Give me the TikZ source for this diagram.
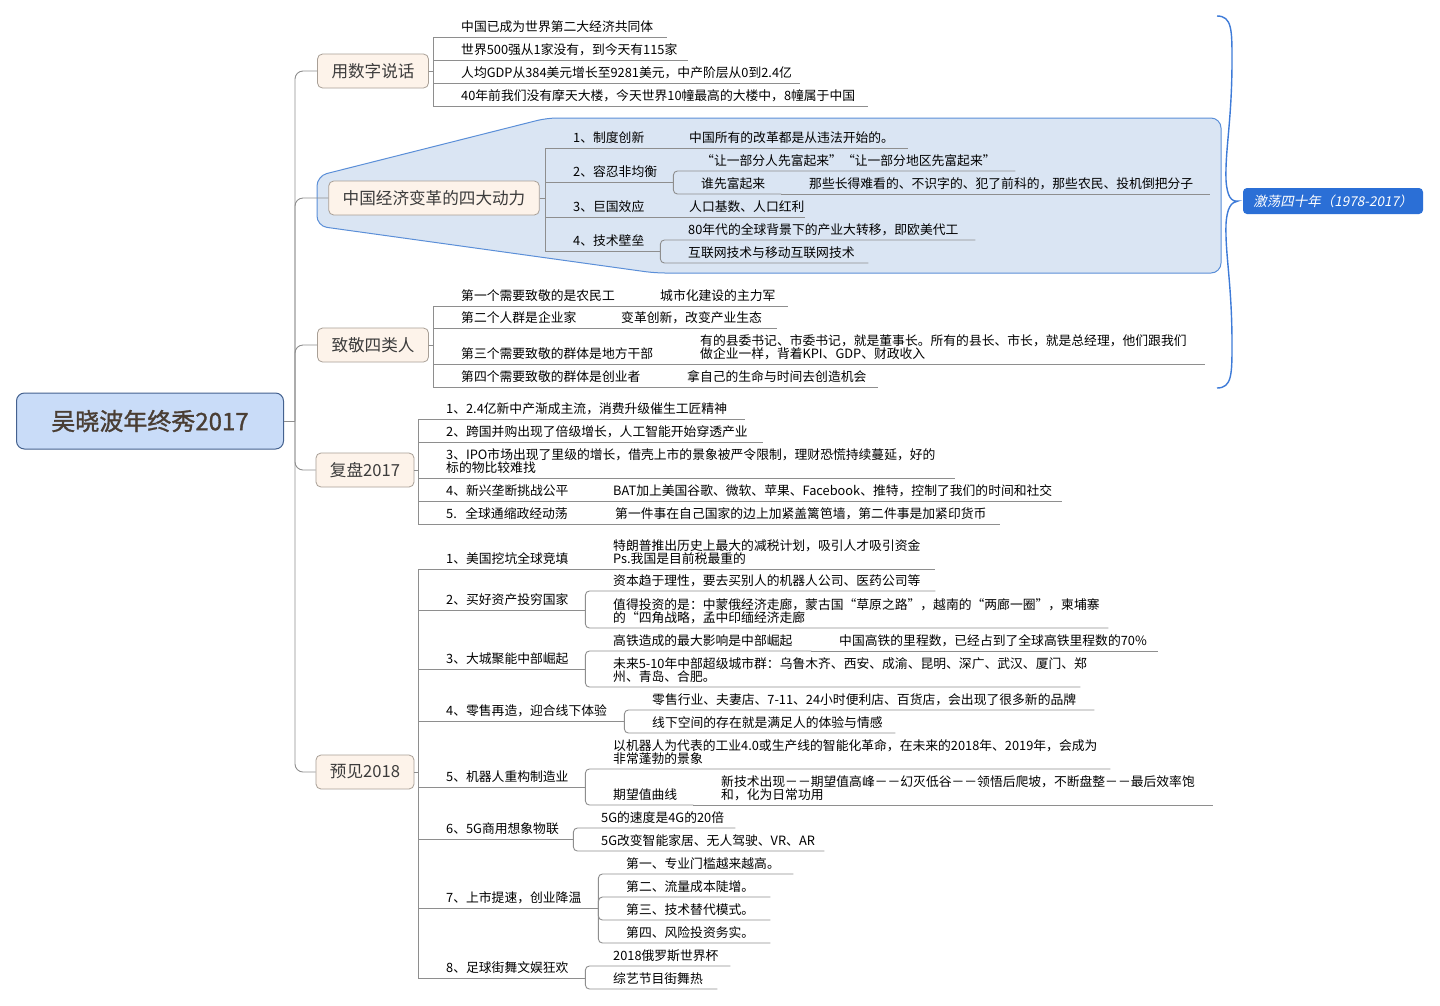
\documentclass[tikz,border=0pt]{standalone}
\usepackage{fontspec}
\setmainfont{Noto Sans CJK SC}
\newfontfamily\cjk{Noto Sans CJK SC}
\newfontfamily\cjkb[FakeBold=1.2]{Noto Sans CJK SC}
\newfontfamily\cjki[FakeSlant=0.2]{Noto Sans CJK SC}
\usepackage{tikz}
\definecolor{lncol}{HTML}{8E8E8E}
\definecolor{brfill}{HTML}{FDF3EA}
\definecolor{brline}{HTML}{A89F96}
\definecolor{brtext}{HTML}{3C3C3C}
\definecolor{rootfill}{HTML}{C9DCF8}
\definecolor{rootline}{HTML}{44618F}
\definecolor{roottext}{HTML}{4A3E34}
\definecolor{zonefill}{HTML}{DAE5F3}
\definecolor{zoneline}{HTML}{5B8FD8}
\definecolor{braceline}{HTML}{3E7BD8}
\definecolor{tagfill}{HTML}{2B6FD6}
\newcommand{\leaffont}{\cjk\fontsize{12.8}{13}\selectfont\lineskiplimit=-20pt}
\newcommand{\ind}{\hspace*{28pt}\strut}
\hyphenpenalty=10000
\exhyphenpenalty=10000
\tikzset{
  ln/.style={draw=lncol, line width=0.9pt},
  topic/.style={anchor=south west, inner xsep=0pt, inner ysep=1pt, text width=#1, align=left, font=\leaffont},
  branch/.style={draw=brline, fill=brfill, rounded corners=5, line width=0.8pt, minimum height=34, inner xsep=14, font=\cjk\fontsize{16.6}{18}\selectfont, text=brtext},
  rootbox/.style={draw=rootline, fill=rootfill, rounded corners=8, line width=1pt, minimum width=267, minimum height=56, font=\cjkb\fontsize{24}{26}\selectfont, text=roottext},
  tagbox/.style={fill=tagfill, rounded corners=4, minimum width=180, minimum height=26, font=\cjki\fontsize{13.5}{15}\selectfont, text=white},
  zone/.style={draw=zoneline, fill=zonefill, line width=1pt},
  bracecurve/.style={draw=braceline, line width=1.4pt}
}
\begin{document}
\begin{tikzpicture}[x=1pt,y=-1pt]
\useasboundingbox (0,0) rectangle (1440,1005);
\fill[white] (0,0) rectangle (1440,1005);

\draw[zone, rounded corners=10] (317,200) -- (317,176) -- (547,118) -- (1221,118) -- (1221,273) -- (655,273) -- (317,226) -- cycle;

\node[rootbox] (root) at (150,421) {吴晓波年终秀2017};
\coordinate (rt) at (295,421);
\node[branch] (b1) at (373,71) {用数字说话};
\node[branch] (b2) at (434,198) {中国经济变革的四大动力};
\node[branch] (b3) at (373,345) {致敬四类人};
\node[branch] (b4) at (365,470) {复盘2017};
\node[branch] (b5) at (365,772) {预见2018};
\node[tagbox] (lbl) at (1333,201) {激荡四十年（1978-2017）};

\node[topic=234] (g1a) at (433,37) {\ind 中国已成为世界第二大经济共同体};
\node[topic=255] (g1b) at (433,60) {\ind 世界500强从1家没有，到今天有115家};
\node[topic=367] (g1c) at (433,83) {\ind 人均GDP从384美元增长至9281美元，中产阶层从0到2.4亿};
\node[topic=435] (g1d) at (433,106) {\ind 40年前我们没有摩天大楼，今天世界10幢最高的大楼中，8幢属于中国};

\node[topic=116] (g2a) at (545,148) {\ind 1、制度创新};
\node[topic=247] (g2a1) at (661,148) {\ind 中国所有的改革都是从违法开始的。};
\node[topic=128] (g2b) at (545,182) {\ind 2、容忍非均衡};
\node[topic=342] (g2b1) at (673,171) {\ind “让一部分人先富起来”“让一部分地区先富起来”};
\node[topic=108] (g2b2) at (673,194) {\ind 谁先富起来};
\node[topic=429] (g2b2a) at (781,194) {\ind 那些长得难看的、不识字的、犯了前科的，那些农民、投机倒把分子};
\node[topic=116] (g2c) at (545,217) {\ind 3、巨国效应};
\node[topic=144] (g2c1) at (661,217) {\ind 人口基数、人口红利};
\node[topic=115] (g2d) at (545,251) {\ind 4、技术壁垒};
\node[topic=315] (g2d1) at (660,240) {\ind 80年代的全球背景下的产业大转移，即欧美代工};
\node[topic=208] (g2d2) at (660,263) {\ind 互联网技术与移动互联网技术};

\node[topic=199] (g3a) at (433,306) {\ind 第一个需要致敬的是农民工};
\node[topic=156] (g3a1) at (632,306) {\ind 城市化建设的主力军};
\node[topic=160] (g3b) at (433,328) {\ind 第二个人群是企业家};
\node[topic=184] (g3b1) at (593,328) {\ind 变革创新，改变产业生态};
\node[topic=239] (g3c) at (433,364) {\ind 第三个需要致敬的群体是地方干部};
\node[topic=533] (g3c1) at (672,364) {\ind 有的县委书记、市委书记，就是董事长。所有的县长、市长，就是总经理，他们跟我们\\\ind 做企业一样，背着KPI、GDP、财政收入};
\node[topic=226] (g3d) at (433,387) {\ind 第四个需要致敬的群体是创业者};
\node[topic=219] (g3d1) at (659,387) {\ind 拿自己的生命与时间去创造机会};

\node[topic=327] (g4a) at (418,419) {\ind 1、2.4亿新中产渐成主流，消费升级催生工匠精神};
\node[topic=345] (g4b) at (418,442) {\ind 2、跨国并购出现了倍级增长，人工智能开始穿透产业};
\node[topic=537] (g4c) at (418,478) {\ind 3、IPO市场出现了里级的增长，借壳上市的景象被严令限制，理财恐慌持续蔓延，好的\\\ind 标的物比较难找};
\node[topic=167] (g4d) at (418,501) {\ind 4、新兴垄断挑战公平};
\node[topic=477] (g4d1) at (585,501) {\ind BAT加上美国谷歌、微软、苹果、Facebook、推特，控制了我们的时间和社交};
\node[topic=169] (g4e) at (418,524) {\ind 5.\ \ 全球通缩政经动荡};
\node[topic=413] (g4e1) at (587,524) {\ind 第一件事在自己国家的边上加紧盖篱笆墙，第二件事是加紧印货币};

\node[topic=167] (g5a) at (418,569) {\ind 1、美国挖坑全球竞填};
\node[topic=350] (g5a1) at (585,569) {\ind 特朗普推出历史上最大的减税计划，吸引人才吸引资金\\\ind Ps.我国是目前税最重的};
\node[topic=167] (g5b) at (418,610) {\ind 2、买好资产投穷国家};
\node[topic=350] (g5b1) at (585,591) {\ind 资本趋于理性，要去买别人的机器人公司、医药公司等};
\node[topic=523] (g5b2) at (585,628) {\ind 值得投资的是：中蒙俄经济走廊，蒙古国“草原之路”，越南的“两廊一圈”，柬埔寨\\\ind 的“四角战略，孟中印缅经济走廊};
\node[topic=167] (g5c) at (418,669) {\ind 3、大城聚能中部崛起};
\node[topic=226] (g5c1) at (585,651) {\ind 高铁造成的最大影响是中部崛起};
\node[topic=347] (g5c1a) at (811,651) {\ind 中国高铁的里程数，已经占到了全球高铁里程数的70\%};
\node[topic=495] (g5c2) at (585,687) {\ind 未来5-10年中部超级城市群：乌鲁木齐、西安、成渝、昆明、深广、武汉、厦门、郑\\\ind 州、青岛、合肥。};
\node[topic=206] (g5d) at (418,721) {\ind 4、零售再造，迎合线下体验};
\node[topic=470] (g5d1) at (624,710) {\ind 零售行业、夫妻店、7-11、24小时便利店、百货店，会出现了很多新的品牌};
\node[topic=271] (g5d2) at (624,733) {\ind 线下空间的存在就是满足人的体验与情感};
\node[topic=167] (g5e) at (418,787) {\ind 5、机器人重构制造业};
\node[topic=525] (g5e1) at (585,769) {\ind 以机器人为代表的工业4.0或生产线的智能化革命，在未来的2018年、2019年，会成为\\\ind 非常蓬勃的景象};
\node[topic=108] (g5e2) at (585,805) {\ind 期望值曲线};
\node[topic=520] (g5e2a) at (693,805) {\ind 新技术出现－－期望值高峰－－幻灭低谷－－领悟后爬坡，不断盘整－－最后效率饱\\\ind 和，化为日常功用};
\node[topic=155] (g5f) at (418,839) {\ind 6、5G商用想象物联};
\node[topic=162] (g5f1) at (573,828) {\ind 5G的速度是4G的20倍};
\node[topic=251] (g5f2) at (573,851) {\ind 5G改变智能家居、无人驾驶、VR、AR};
\node[topic=180] (g5g) at (418,908) {\ind 7、上市提速，创业降温};
\node[topic=195] (g5g1) at (598,874) {\ind 第一、专业门槛越来越高。};
\node[topic=172] (g5g2) at (598,897) {\ind 第二、流量成本陡增。};
\node[topic=172] (g5g3) at (598,920) {\ind 第三、技术替代模式。};
\node[topic=172] (g5g4) at (598,943) {\ind 第四、风险投资务实。};
\node[topic=167] (g5h) at (418,978) {\ind 8、足球街舞文娱狂欢};
\node[topic=145] (g5h1) at (585,966) {\ind 2018俄罗斯世界杯};
\node[topic=132] (g5h2) at (585,989) {\ind 综艺节目街舞热};

\draw[ln] (root.east) -- (rt);
\foreach \b in {b1,b2,b3,b4,b5}
  \draw[ln, rounded corners=8] (rt) |- (\b.west);

\foreach \c in {g1a,g1b,g1c,g1d}
  \draw[ln] (b1.east) -| (\c.south west) -- (\c.south east);
\foreach \c in {g2a,g2b,g2c,g2d}
  \draw[ln] (b2.east) -| (\c.south west) -- (\c.south east);
\foreach \c in {g3a,g3b,g3c,g3d}
  \draw[ln] (b3.east) -| (\c.south west) -- (\c.south east);
\foreach \c in {g4a,g4b,g4c,g4d,g4e}
  \draw[ln] (b4.east) -| (\c.south west) -- (\c.south east);
\foreach \c in {g5a,g5b,g5c,g5d,g5e,g5f,g5g,g5h}
  \draw[ln] (b5.east) -| (\c.south west) -- (\c.south east);

\foreach \p/\c in {g2a/g2a1,g2c/g2c1,g2b2/g2b2a,g3a/g3a1,g3b/g3b1,g3c/g3c1,g3d/g3d1,g4d/g4d1,g4e/g4e1,g5a/g5a1,g5c1/g5c1a,g5e2/g5e2a}
  \draw[ln] (\p.south east) -- (\c.south east);

\foreach \p/\c in {g2b/g2b1,g2b/g2b2,g2d/g2d1,g2d/g2d2,g5b/g5b1,g5b/g5b2,g5c/g5c1,g5c/g5c2,g5d/g5d1,g5d/g5d2,g5e/g5e1,g5e/g5e2,g5f/g5f1,g5f/g5f2,g5g/g5g1,g5g/g5g2,g5g/g5g3,g5g/g5g4,g5h/g5h1,g5h/g5h2}
  \draw[ln, rounded corners=4] (\p.south east) |- (\c.south east);

\draw[bracecurve] (1217,16) .. controls (1232,16) and (1232,30) .. (1232,60)
  .. controls (1232,120) and (1225,150) .. (1226,180)
  .. controls (1227,196) and (1231,202) .. (lbl.west -| 1238,202)
  .. controls (1231,202) and (1227,208) .. (1226,224)
  .. controls (1225,254) and (1232,284) .. (1232,344)
  .. controls (1232,374) and (1232,388) .. (1217,388);
\end{tikzpicture}
\end{document}
